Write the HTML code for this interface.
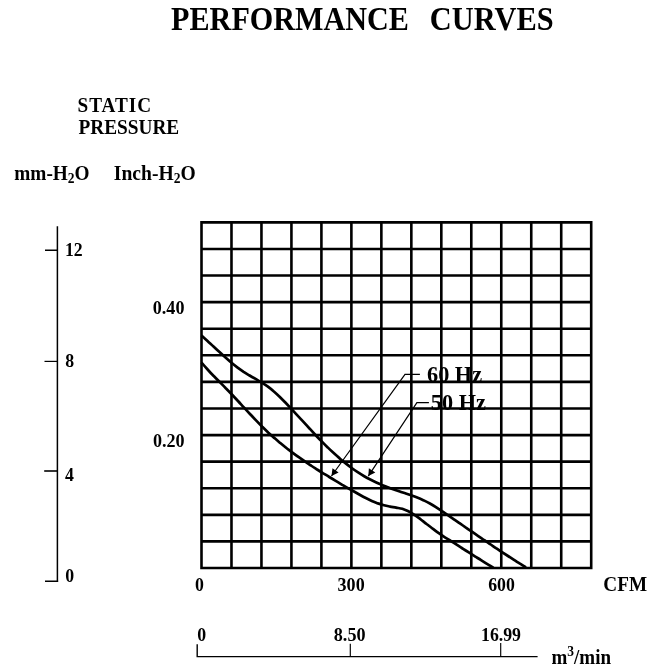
<!DOCTYPE html>
<html><head><meta charset="utf-8"><title>Performance Curves</title>
<style>
html,body{margin:0;padding:0;background:#fff;}
body{width:672px;height:668px;overflow:hidden;}
svg{display:block;}
text{font-family:"Liberation Serif","Times New Roman",serif;font-weight:bold;fill:#000;}
</style></head><body>
<svg width="672" height="668" viewBox="0 0 672 668">
<rect width="672" height="668" fill="#fff"/>
<text transform="translate(171.1 29.8) scale(1 1.1)" font-size="30.15" text-anchor="start">PERFORMANCE</text>
<text transform="translate(429.8 29.8) scale(1 1.1)" font-size="30.4" text-anchor="start">CURVES</text>
<text transform="translate(77.5 112.3) scale(1 1.07)" font-size="19.2" text-anchor="start" letter-spacing="1">STATIC</text>
<text transform="translate(78.5 134.2) scale(1 1.07)" font-size="19.3" text-anchor="start">PRESSURE</text>
<text transform="translate(14.3 180.4) scale(1 1.07)" font-size="19.3" text-anchor="start">mm-H<tspan font-size="13.5" dy="2">2</tspan><tspan dy="-2">O</tspan></text>
<text transform="translate(113.8 180.4) scale(1 1.07)" font-size="19.6" text-anchor="start">Inch-H<tspan font-size="13.5" dy="2">2</tspan><tspan dy="-2">O</tspan></text>
<text transform="translate(64.9 255.6) scale(1 1.035)" font-size="17.8" text-anchor="start">12</text>
<text transform="translate(65.2 367.2) scale(1 1.035)" font-size="17.8" text-anchor="start">8</text>
<text transform="translate(65.0 480.9) scale(1 1.035)" font-size="17.8" text-anchor="start">4</text>
<text transform="translate(65.2 582.1) scale(1 1.035)" font-size="17.8" text-anchor="start">0</text>
<text transform="translate(152.8 313.9) scale(1 1.035)" font-size="18.1" text-anchor="start">0.40</text>
<text transform="translate(153 446.6) scale(1 1.035)" font-size="18.1" text-anchor="start">0.20</text>
<text transform="translate(195.0 591.4) scale(1 1.035)" font-size="17.8" text-anchor="start">0</text>
<text transform="translate(337.6 591.2) scale(1 1.0)" font-size="18.05" text-anchor="start">300</text>
<text transform="translate(488.2 591.2) scale(1 1.035)" font-size="17.8" text-anchor="start">600</text>
<text transform="translate(603.3 590.6) scale(1 1.07)" font-size="19.2" text-anchor="start">CFM</text>
<text transform="translate(197.3 641.2) scale(1 1.0)" font-size="17.8" text-anchor="start">0</text>
<text transform="translate(333.8 641.2) scale(1 1.0)" font-size="18.15" text-anchor="start">8.50</text>
<text transform="translate(481 641.2) scale(1 1.0)" font-size="17.8" text-anchor="start">16.99</text>
<text transform="translate(551.5 663.8) scale(1 1.07)" font-size="19.0" text-anchor="start">m<tspan font-size="13.5" dy="-7.2">3</tspan><tspan dy="7.2">/min</tspan></text>
<text transform="translate(427 381.5) scale(1 1.07)" font-size="22.3" text-anchor="start">60 Hz</text>
<text transform="translate(430.8 409.9) scale(1 1.07)" font-size="22.3" text-anchor="start">50 Hz</text>
<path d="M201.50 221.10V569.30M231.48 221.10V569.30M261.45 221.10V569.30M291.43 221.10V569.30M321.41 221.10V569.30M351.38 221.10V569.30M381.36 221.10V569.30M411.34 221.10V569.30M441.32 221.10V569.30M471.29 221.10V569.30M501.27 221.10V569.30M531.25 221.10V569.30M561.22 221.10V569.30M591.20 221.10V569.30M200.20 222.40H592.50M200.20 248.98H592.50M200.20 275.57H592.50M200.20 302.15H592.50M200.20 328.74H592.50M200.20 355.32H592.50M200.20 381.91H592.50M200.20 408.49H592.50M200.20 435.08H592.50M200.20 461.66H592.50M200.20 488.25H592.50M200.20 514.83H592.50M200.20 541.42H592.50M200.20 568.00H592.50" stroke="#000" stroke-width="2.6" fill="none"/>
<path d="M201.5 335.5C202.5 336.4 205.5 339.1 207.5 340.9C209.5 342.8 211.5 344.6 213.5 346.5C215.5 348.4 217.5 350.3 219.5 352.1C221.5 354.0 223.5 355.8 225.5 357.6C227.5 359.4 229.5 361.2 231.5 362.8C233.5 364.5 235.6 366.1 237.6 367.6C239.6 369.1 241.6 370.5 243.6 371.9C245.6 373.2 247.6 374.3 249.6 375.5C251.6 376.7 253.6 377.8 255.6 378.9C257.6 380.1 259.6 381.2 261.6 382.5C263.6 383.7 265.6 385.0 267.6 386.4C269.6 387.9 271.6 389.4 273.6 391.2C275.6 392.9 277.6 394.8 279.6 396.7C281.6 398.7 283.6 400.7 285.6 402.8C287.6 404.9 289.6 407.0 291.6 409.1C293.6 411.3 295.6 413.5 297.6 415.6C299.7 417.8 301.7 420.0 303.7 422.2C305.7 424.4 307.7 426.6 309.7 428.7C311.7 430.9 313.7 433.1 315.7 435.2C317.7 437.3 319.7 439.4 321.7 441.4C323.7 443.5 325.7 445.5 327.7 447.4C329.7 449.4 331.7 451.3 333.7 453.1C335.7 454.9 337.7 456.7 339.7 458.4C341.7 460.2 343.7 461.8 345.7 463.4C347.7 465.0 349.7 466.6 351.7 468.0C353.7 469.5 355.7 470.9 357.7 472.2C359.7 473.5 361.7 474.8 363.8 476.0C365.8 477.2 367.8 478.3 369.8 479.3C371.8 480.3 373.8 481.3 375.8 482.2C377.8 483.2 379.8 484.0 381.8 484.9C383.8 485.7 385.8 486.5 387.8 487.2C389.8 488.0 391.8 488.7 393.8 489.4C395.8 490.1 397.8 490.8 399.8 491.5C401.8 492.2 403.8 492.8 405.8 493.5C407.8 494.2 409.8 494.9 411.8 495.6C413.8 496.3 415.8 497.0 417.8 497.8C419.8 498.6 421.8 499.5 423.8 500.4C425.8 501.4 427.8 502.4 429.9 503.5C431.9 504.6 433.9 505.8 435.9 507.1C437.9 508.4 439.9 509.7 441.9 511.1C443.9 512.4 445.9 513.8 447.9 515.1C449.9 516.5 451.9 517.9 453.9 519.3C455.9 520.7 457.9 522.0 459.9 523.4C461.9 524.8 463.9 526.2 465.9 527.6C467.9 528.9 469.9 530.3 471.9 531.7C473.9 533.1 475.9 534.5 477.9 535.8C479.9 537.2 481.9 538.6 483.9 540.0C485.9 541.3 487.9 542.7 489.9 544.0C491.9 545.4 494.0 546.7 496.0 548.1C498.0 549.4 500.0 550.8 502.0 552.1C504.0 553.4 506.0 554.7 508.0 556.0C510.0 557.3 512.0 558.6 514.0 559.9C516.0 561.2 518.0 562.4 520.0 563.7C522.0 564.9 525.0 566.8 526.0 567.4" stroke="#000" stroke-width="2.7" fill="none"/><path d="M201.5 362.5C202.5 363.7 205.6 367.3 207.6 369.5C209.6 371.8 211.6 373.9 213.7 376.0C215.7 378.0 217.7 380.1 219.8 382.1C221.8 384.1 223.8 386.1 225.8 388.2C227.9 390.3 229.9 392.4 231.9 394.5C233.9 396.7 236.0 398.9 238.0 401.0C240.0 403.2 242.1 405.4 244.1 407.6C246.1 409.8 248.1 412.0 250.2 414.2C252.2 416.3 254.2 418.5 256.3 420.6C258.3 422.7 260.3 424.8 262.3 426.8C264.4 428.8 266.4 430.8 268.4 432.7C270.5 434.6 272.5 436.4 274.5 438.1C276.5 439.9 278.6 441.6 280.6 443.3C282.6 445.0 284.6 446.6 286.7 448.2C288.7 449.7 290.7 451.3 292.8 452.8C294.8 454.3 296.8 455.8 298.8 457.2C300.9 458.7 302.9 460.1 304.9 461.4C307.0 462.8 309.0 464.2 311.0 465.5C313.0 466.9 315.1 468.2 317.1 469.5C319.1 470.7 321.2 472.0 323.2 473.3C325.2 474.5 327.2 475.8 329.3 477.0C331.3 478.3 333.3 479.5 335.3 480.7C337.4 481.9 339.4 483.1 341.4 484.3C343.5 485.5 345.5 486.6 347.5 487.8C349.5 489.0 351.6 490.1 353.6 491.3C355.6 492.4 357.7 493.6 359.7 494.7C361.7 495.8 363.7 496.9 365.8 498.0C367.8 499.0 369.8 500.0 371.8 500.9C373.9 501.8 375.9 502.6 377.9 503.4C380.0 504.1 382.0 504.7 384.0 505.2C386.0 505.8 388.1 506.2 390.1 506.6C392.1 507.0 394.2 507.2 396.2 507.6C398.2 508.0 400.2 508.2 402.3 508.8C404.3 509.5 406.3 510.3 408.4 511.3C410.4 512.3 412.4 513.6 414.4 514.9C416.5 516.2 418.5 517.7 420.5 519.2C422.5 520.8 424.6 522.4 426.6 524.0C428.6 525.5 430.7 527.1 432.7 528.7C434.7 530.2 436.7 531.8 438.8 533.2C440.8 534.6 442.8 536.0 444.9 537.3C446.9 538.6 448.9 539.7 450.9 541.0C453.0 542.2 455.0 543.5 457.0 544.8C459.1 546.1 461.1 547.5 463.1 548.8C465.1 550.1 467.2 551.4 469.2 552.7C471.2 554.0 473.2 555.3 475.3 556.6C477.3 557.8 479.3 559.1 481.4 560.3C483.4 561.6 485.4 562.9 487.4 564.1C489.5 565.4 492.5 567.3 493.5 567.9" stroke="#000" stroke-width="2.7" fill="none"/>
<path d="M419.9 374.3H405L331.5 476" stroke="#000" stroke-width="1.2" fill="none"/><polygon points="331.5,476.0 332.5,468.2 338.6,472.6" fill="#000"/><path d="M428.9 402.7H416.9L368.3 476.1" stroke="#000" stroke-width="1.2" fill="none"/><polygon points="368.3,476.1 368.9,468.2 375.3,472.4" fill="#000"/>
<path d="M57.4 226.2V582" stroke="#000" stroke-width="1.5" fill="none"/><path d="M45 250.3H57.6M45 581.3H58.1" stroke="#000" stroke-width="1.5" fill="none"/><path d="M44.5 361.4H57.6" stroke="#000" stroke-width="1.2" fill="none"/><path d="M44.2 471H57.6" stroke="#000" stroke-width="1.6" fill="none"/><path d="M197.2 644.3V656.6H537.6" stroke="#000" stroke-width="1.4" fill="none"/><path d="M350.3 643.7V656.6M500.7 643.1V656.6" stroke="#000" stroke-width="1.15" fill="none"/>
</svg>
</body></html>
